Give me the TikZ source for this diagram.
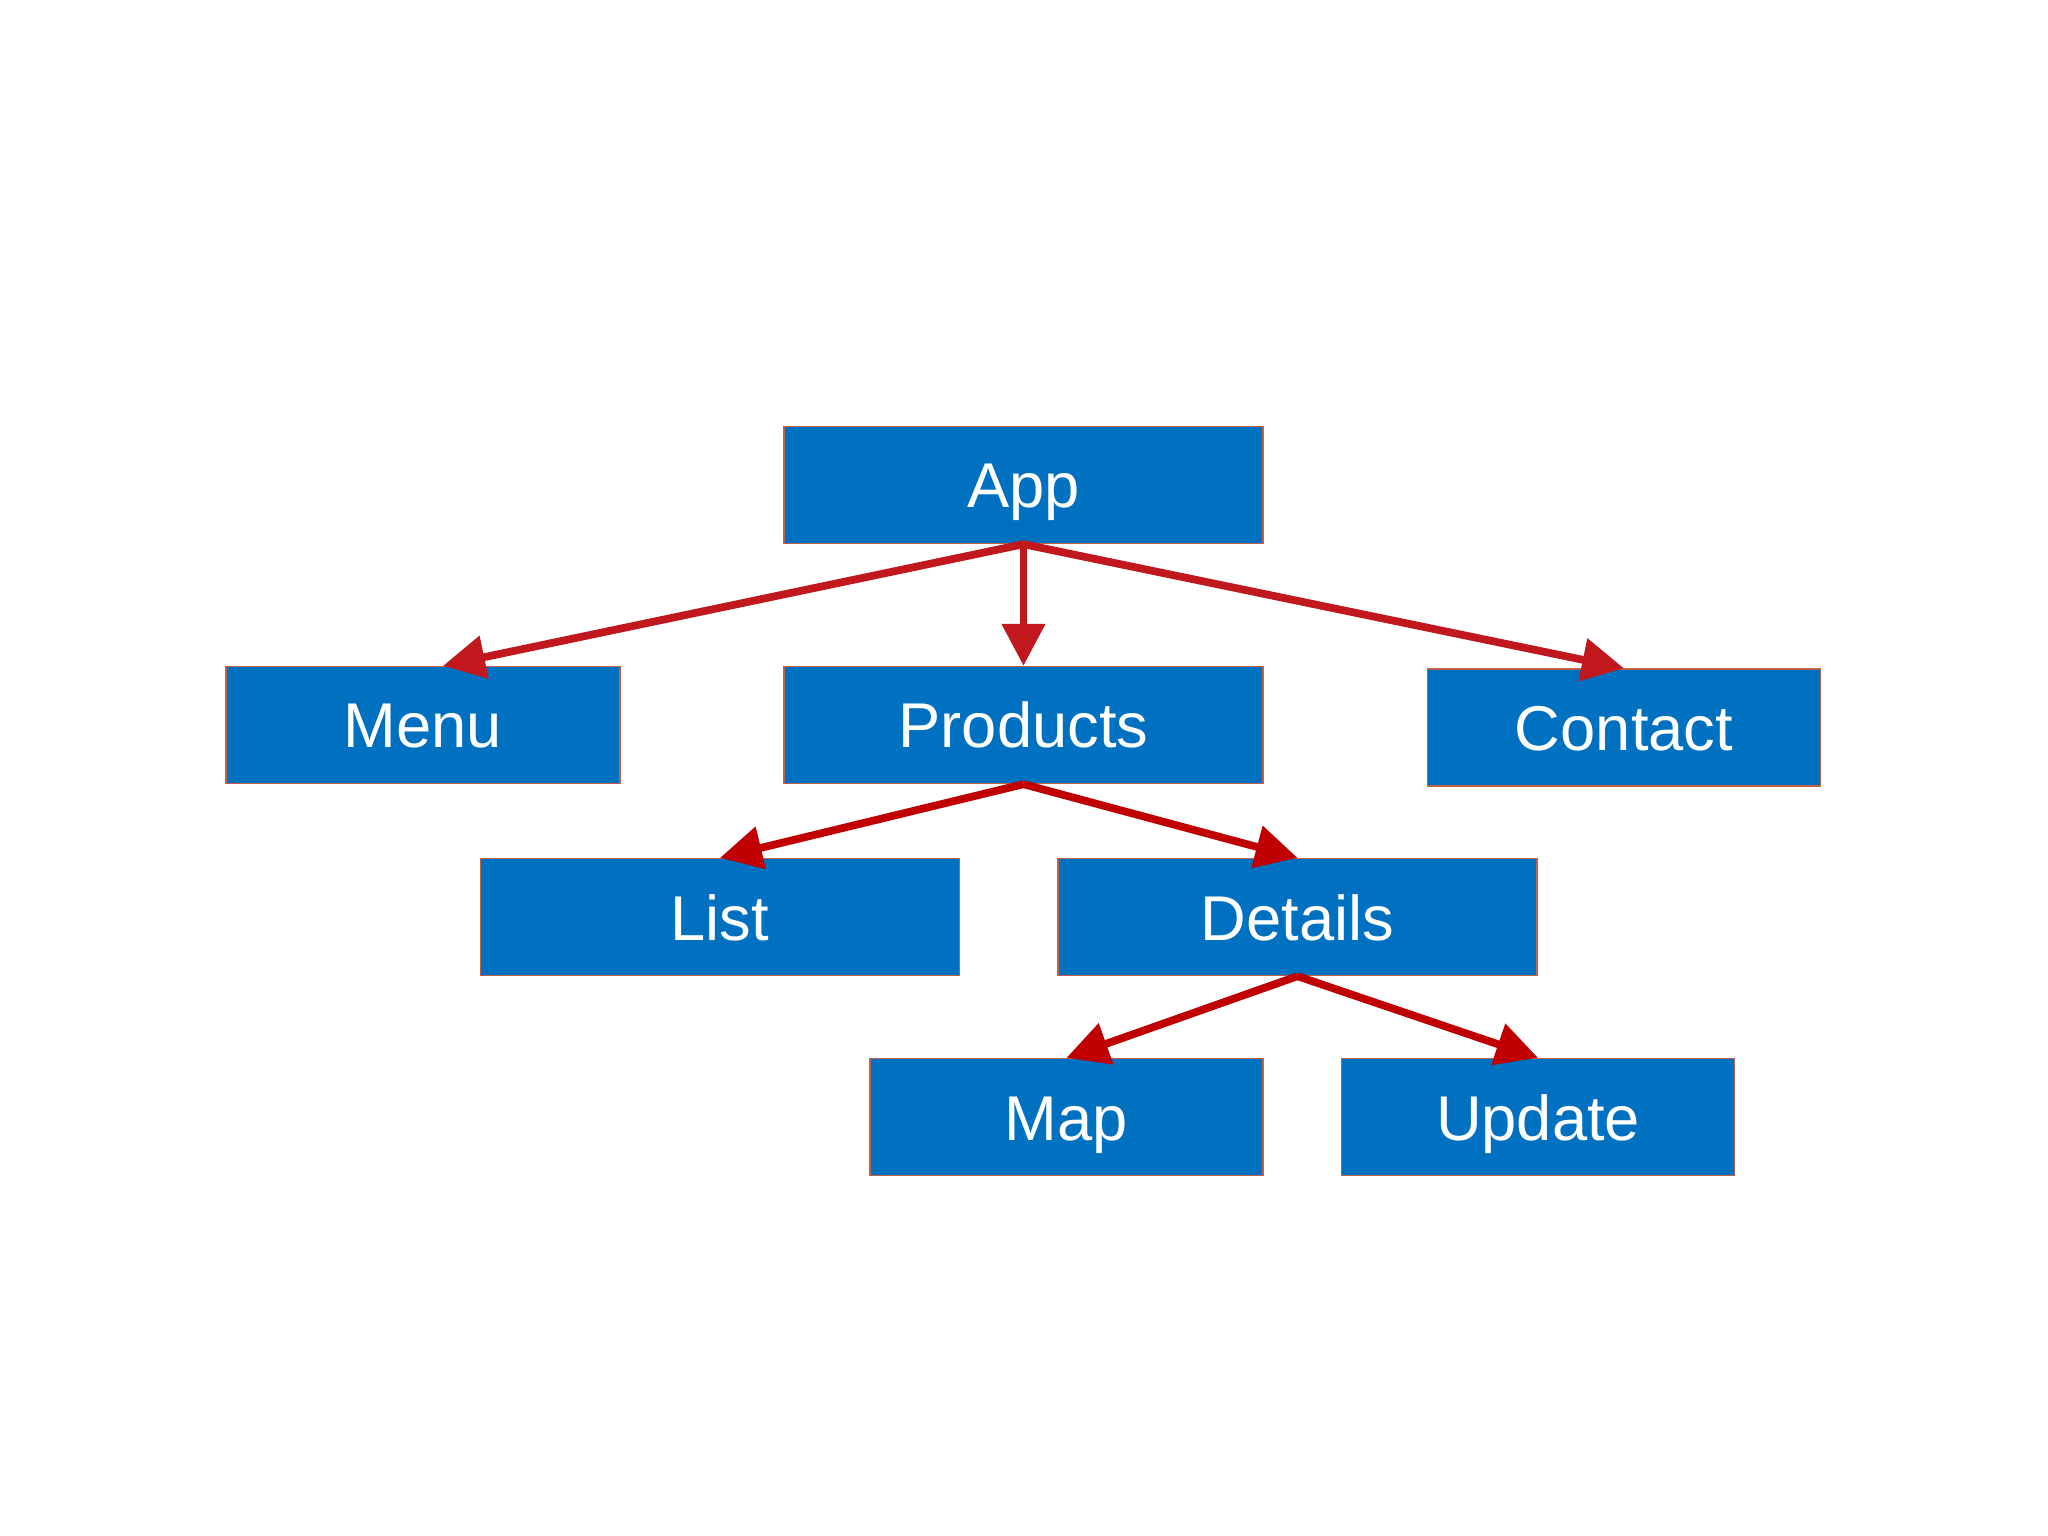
\documentclass[tikz,border=0pt]{standalone}
\usepackage{fontspec}
\setmainfont{Liberation Sans}
\usepackage{tikz}
\usetikzlibrary{arrows.meta}
\definecolor{boxcol}{HTML}{0070C0}
\definecolor{edgecol}{HTML}{C0604A}
\definecolor{linkcol}{HTML}{C0181C}
\definecolor{sublinkcol}{HTML}{C00000}
\tikzset{
  box/.style={rectangle, fill=boxcol, draw=edgecol, line width=0.4pt,
    text=white, font=\fontsize{18}{22}\selectfont,
    minimum height=1.17cm, text height=0.46cm, text depth=0pt, inner sep=0pt},
  link/.style={-{Triangle[length=0.42cm, width=0.42cm]}, line width=2.2pt, linkcol},
  sublink/.style={link, sublinkcol}
}

\begin{document}
\begin{tikzpicture}[>=Stealth]

  % Page frame.
  \useasboundingbox[fill=white] (0,0) rectangle (20.48,-15.36);

  % Top level.
  \node[box, minimum width=4.79cm] (app) at (10.235,-4.85) {App};

  % Second level.
  \node[box, minimum width=3.94cm] (menu) at (4.23,-7.25) {Menu};
  \node[box, minimum width=4.79cm] (products) at (10.235,-7.25) {Products};
  \node[box, minimum width=3.93cm] (contact) at (16.24,-7.275) {Contact};

  % Third level.
  \node[box, minimum width=4.79cm] (list) at (7.20,-9.17) {List};
  \node[box, minimum width=4.79cm] (details) at (12.975,-9.17) {Details};

  % Fourth level.
  \node[box, minimum width=3.93cm] (map) at (10.665,-11.17) {Map};
  \node[box, minimum width=3.93cm] (update) at (15.38,-11.17) {Update};

  % Links from App.
  \draw[link] (app.south) -- ([xshift=0.2cm]menu.north);
  \draw[link] (app.south) -- (products.north);
  \draw[link] (app.south) -- (contact.north);

  % Links from Products.
  \draw[sublink] (products.south) -- (list.north);
  \draw[sublink] (products.south) -- (details.north);

  % Links from Details.
  \draw[sublink] (details.south) -- (map.north);
  \draw[sublink] (details.south) -- (update.north);

\end{tikzpicture}
\end{document}
